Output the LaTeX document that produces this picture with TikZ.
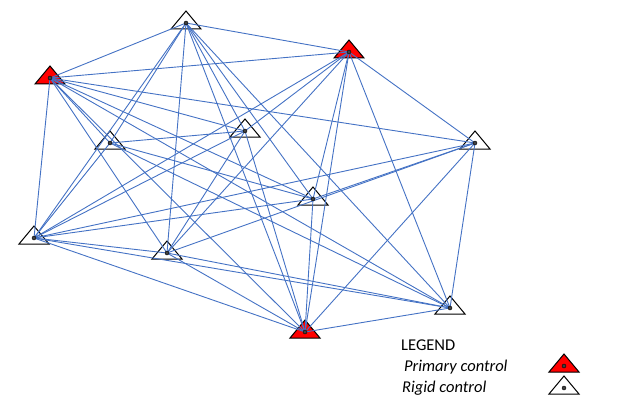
\documentclass[tikz,border=0pt]{standalone}
\usepackage{fontspec}
\setmainfont{Carlito}
\definecolor{edgeblue}{RGB}{68,114,196}
\definecolor{primred}{RGB}{255,0,0}
\begin{document}
\begin{tikzpicture}[x=1pt,y=-1pt,
  edge/.style={draw=edgeblue, line width=0.9pt},
  trishape/.style={draw=black, line width=1pt, line join=miter},
  stationdot/.style={fill=black!75, draw=black, line width=0.4pt},
  legendtext/.style={anchor=base west, inner sep=0pt, font=\fontsize{16.5}{19}\selectfont},
  primary/.pic={\path[trishape, fill=primred] (-15,6) -- (0,-12) -- (15,6) -- cycle;},
  rigid/.pic={\path[trishape] (-15,6) -- (0,-12) -- (15,6) -- cycle;}
]
\useasboundingbox (0,0) rectangle (623,409);
% stations
\coordinate (A) at (186,23);
\coordinate (B) at (50,78);
\coordinate (C) at (349,52);
\coordinate (D) at (110,143);
\coordinate (E) at (245,131);
\coordinate (F) at (475,143);
\coordinate (G) at (313,199);
\coordinate (H) at (34,238);
\coordinate (I) at (167,253);
\coordinate (J) at (305,332);
\coordinate (K) at (450,308);
% triangles
\pic at (B) {primary};
\pic at (C) {primary};
\pic at (J) {primary};
\foreach \s in {A,D,E,F,G,H,I,K} \pic at (\s) {rigid};
% baselines
\foreach \u/\v in {A/B,A/C,A/D,A/H,A/I,A/E,A/G,A/J,A/K,
  B/C,B/D,B/E,B/F,B/G,B/H,B/I,B/J,B/K,
  C/E,C/F,C/G,C/H,C/I,C/J,C/K,
  D/E,D/G,D/K,D/H,
  E/H,E/I,E/J,
  F/G,F/H,F/I,F/J,F/K,
  G/H,G/J,
  H/I,H/J,H/K,
  I/J,I/K,
  J/K}
  \draw[edge] (\u) -- (\v);
\foreach \s in {A,B,C,D,E,F,G,H,I,J,K} \path[stationdot] (\s) circle (2);
% legend
\node[legendtext] (legtitle) at (401,350) {LEGEND};
\node[legendtext] (legprim) at (404,371.5) {\itshape Primary control};
\node[legendtext] (legrig) at (402,392.5) {\itshape Rigid control};
\coordinate (LP) at (564,366);
\coordinate (LR) at (564,388);
\pic at (LP) {primary};
\pic at (LR) {rigid};
\path[stationdot] (LP) circle (2);
\path[stationdot] (LR) circle (2);
\end{tikzpicture}
\end{document}
